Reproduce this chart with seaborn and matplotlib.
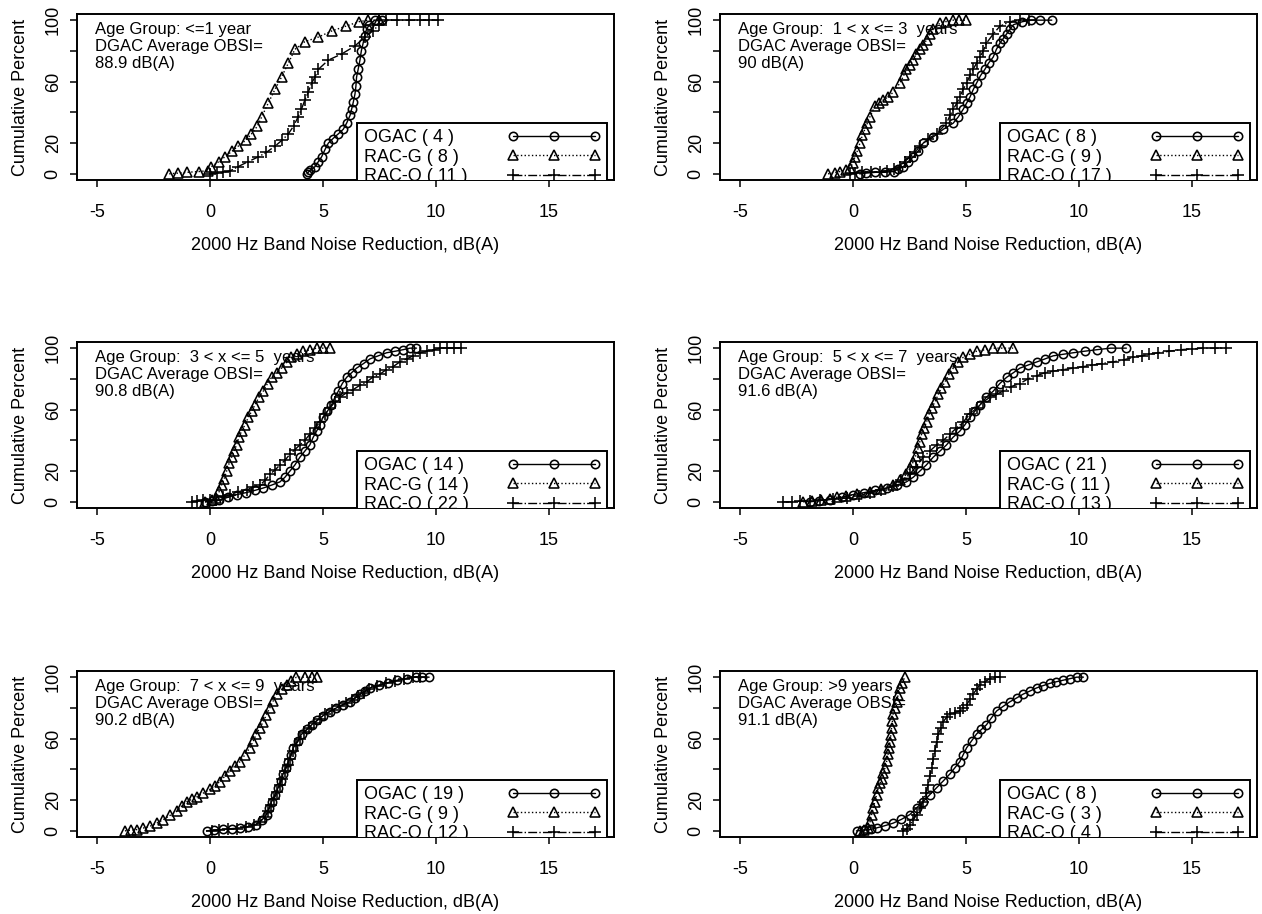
import matplotlib
matplotlib.use('Agg')
import matplotlib.pyplot as plt
import seaborn as sns
from matplotlib.lines import Line2D

# ── Data ─────────────────────────────────────────────────────────────────────
# Panel 1: age <= 1 year
p1_ogac_x = [4.3, 4.35, 4.45, 4.65, 4.8, 4.94, 5.1, 5.24, 5.45, 5.68, 5.9, 6.05, 6.2, 6.27, 6.35,
             6.42, 6.46, 6.49, 6.56, 6.64, 6.7, 6.78, 6.85, 6.93, 7.05, 7.3, 7.6]
p1_ogac_y = [0, 1, 2.5, 4.7, 8, 11, 16, 20, 23, 26, 29, 33, 38, 42, 47,
             52, 57, 63, 68, 74, 80, 85, 90, 94, 97, 100, 100]
p1_racg_x = [-1.8, -1.4, -1.0, -0.5, -0.1, 0.07, 0.4, 0.66, 1.0, 1.25, 1.6, 1.84, 2.1, 2.29, 2.58,
             2.88, 3.17, 3.47, 3.76, 4.2, 4.8, 5.4, 6.0, 6.6, 7.0, 7.5]
p1_racg_y = [0, 0.5, 1, 1.5, 2, 4.7, 8, 11, 15, 18, 22, 26, 31, 37, 46,
             55, 63, 72, 81, 86, 89, 93, 96, 99, 100, 100]
p1_raco_x = [0.0, 0.3, 0.6, 0.9, 1.25, 1.7, 2.14, 2.5, 2.88, 3.2, 3.47, 3.7, 3.9, 4.05, 4.2, 4.35,
             4.5, 4.65, 4.8, 5.24, 5.83, 6.4, 6.86, 7.2, 7.5, 7.8, 8.3, 8.8, 9.3, 9.7, 10.1]
p1_raco_y = [0, 0.5, 1, 2, 4.7, 8, 11, 14, 18, 22, 26, 31, 37, 42, 48, 53,
             59, 63, 68, 74, 78, 83, 89, 93, 97, 100, 100, 100, 100, 100, 100]

# Panel 2: 1 < x <= 3 years
p2_ogac_x = [0.3, 0.6, 1.0, 1.4, 1.8, 2.0, 2.23, 2.45, 2.67, 2.9, 3.11, 3.55, 4.0, 4.44, 4.66, 4.88,
             5.03, 5.18, 5.33, 5.47, 5.65, 5.84, 6.0, 6.21, 6.35, 6.5, 6.65, 6.8, 6.95, 7.1, 7.5,
             7.9, 8.3, 8.8]
p2_ogac_y = [0, 0.5, 1, 1, 1.5, 3, 4.7, 8, 11, 15, 20, 24, 29, 33, 37, 42,
             46, 50, 55, 59, 64, 68, 72, 76, 81, 85, 88, 91, 94, 97, 99,
             100, 100, 100]
p2_racg_x = [-1.1, -0.8, -0.58, -0.3, -0.13, 0.0, 0.09, 0.2, 0.31, 0.42, 0.53, 0.64, 0.75, 0.97,
             1.15, 1.34, 1.55, 1.78, 2.08, 2.25, 2.37, 2.52, 2.67, 2.8, 2.96, 3.1, 3.26, 3.4,
             3.55, 3.85, 4.1, 4.44, 4.7, 5.0]
p2_racg_y = [0, 0.8, 1.5, 2.5, 3.6, 7, 11, 15, 20, 25, 29, 33, 37, 44,
             46, 48, 50, 53, 59, 64, 68, 71, 74, 78, 81, 84, 87, 91,
             94, 98, 99, 100, 100, 100]
p2_raco_x = [-0.13, 0.1, 0.4, 0.8, 1.2, 1.5, 1.8, 2.08, 2.3, 2.52, 2.75, 2.96, 3.33, 3.7, 4.14,
             4.3, 4.44, 4.6, 4.73, 4.88, 5.03, 5.18, 5.32, 5.47, 5.62, 5.77, 5.91, 6.21, 6.5,
             6.95, 7.4, 7.8]
p2_raco_y = [0, 0.5, 1, 1, 1.5, 2, 3, 4.7, 8, 11, 14, 18, 23, 26, 33,
             38, 42, 46, 50, 55, 59, 64, 68, 72, 76, 80, 85, 91, 96,
             99, 100, 100]

# Panel 3: 3 < x <= 5 years
p3_ogac_x = [-0.2, 0.1, 0.4, 0.8, 1.18, 1.6, 2.0, 2.36, 2.75, 3.1, 3.32, 3.54, 3.76, 3.98, 4.2,
             4.42, 4.57, 4.72, 4.86, 5.0, 5.2, 5.38, 5.53, 5.68, 5.86, 6.05, 6.27, 6.49, 6.8,
             7.08, 7.45, 7.82, 8.2, 8.55, 8.85, 9.14]
p3_ogac_y = [0, 0.5, 1, 3, 4.7, 6, 7.5, 9, 11, 13, 16, 20, 24, 29, 33,
             37, 42, 46, 50, 55, 59, 63, 68, 72, 77, 81, 84, 87, 90,
             93, 95, 97, 98, 99, 100, 100]
p3_racg_x = [-0.22, 0.1, 0.29, 0.42, 0.52, 0.63, 0.74, 0.85, 0.96, 1.07, 1.18, 1.29, 1.4, 1.55,
             1.7, 1.85, 1.99, 2.17, 2.36, 2.55, 2.73, 2.95, 3.17, 3.4, 3.61, 3.85, 4.13, 4.45,
             4.72, 5.0, 5.3]
p3_racg_y = [0, 1, 2.5, 7, 11, 15, 20, 25, 29, 33, 37, 42, 46, 50,
             55, 59, 63, 68, 72, 77, 81, 84, 87, 91, 94, 96, 98, 99,
             100, 100, 100]
p3_raco_x = [-0.81, -0.55, -0.3, 0.0, 0.29, 0.6, 0.88, 1.25, 1.62, 1.9, 2.21, 2.45, 2.65, 2.9,
             3.1, 3.32, 3.54, 3.76, 3.98, 4.2, 4.42, 4.65, 4.87, 5.1, 5.31, 5.53, 5.75, 6.05,
             6.34, 6.65, 6.93, 7.2, 7.52, 7.8, 8.11, 8.4, 8.7, 9.0, 9.29, 9.6, 9.9, 10.2,
             10.5, 10.8, 11.1]
p3_raco_y = [0, 0.4, 1, 1, 1.5, 3, 4.7, 6.5, 8, 9.5, 11, 14, 18, 21,
             24, 27, 31, 34, 37, 40, 44, 48, 52, 57, 61, 65, 68, 71,
             73, 76, 78, 81, 83, 86, 88, 91, 93, 95, 97, 98, 99, 100,
             100, 100, 100]

# Panel 4: 5 < x <= 7 years
p4_ogac_x = [-1.9, -1.5, -1.0, -0.5, 0.0, 0.5, 1.0, 1.49, 1.95, 2.37, 2.67, 2.96, 3.25, 3.55,
             3.85, 4.14, 4.43, 4.73, 4.95, 5.18, 5.4, 5.62, 5.9, 6.21, 6.5, 6.8, 7.1, 7.39,
             7.75, 8.13, 8.5, 8.86, 9.3, 9.75, 10.25, 10.8, 11.4, 12.1]
p4_ogac_y = [0, 0.8, 1.5, 3, 4.7, 6, 7.5, 9, 11, 13, 16, 20, 24, 29,
             33, 37, 42, 46, 50, 55, 59, 63, 68, 72, 77, 81, 84, 87,
             89, 91, 93, 95, 96, 97, 98, 99, 100, 100]
p4_racg_x = [-2.2, -1.8, -1.4, -1.0, -0.72, -0.3, 0.2, 0.75, 1.25, 1.78, 2.1, 2.37, 2.52, 2.67,
             2.78, 2.89, 2.96, 3.04, 3.15, 3.26, 3.37, 3.48, 3.63, 3.78, 3.92, 4.07, 4.25,
             4.44, 4.66, 4.88, 5.17, 5.47, 5.85, 6.21, 6.6, 7.09]
p4_racg_y = [0, 0.4, 1, 2, 3, 4, 5, 6.4, 8.5, 11, 14, 18, 22, 26,
             30, 35, 39, 44, 48, 52, 57, 61, 65, 70, 74, 78, 83,
             87, 91, 94, 96, 98, 99, 100, 100, 100]
p4_raco_x = [-3.08, -2.7, -2.35, -1.9, -1.46, -0.9, -0.28, 0.25, 0.75, 1.25, 1.78, 2.15, 2.52,
             2.8, 3.11, 3.4, 3.7, 4.0, 4.29, 4.58, 4.88, 5.17, 5.47, 5.76, 6.06, 6.35, 6.65,
             7.0, 7.39, 7.75, 8.13, 8.5, 8.86, 9.3, 9.75, 10.2, 10.6, 11.0, 11.5, 12.0, 12.4,
             12.8, 13.1, 13.5, 14.0, 14.5, 15.0, 15.5, 16.0, 16.5]
p4_raco_y = [0, 0, 0.4, 0.7, 1, 1.8, 2.5, 4, 5.8, 8, 10, 14, 18,
             23, 29, 33, 37, 40, 44, 48, 52, 57, 61, 65, 68, 70, 72,
             75, 77, 80, 82, 84, 85, 86, 87, 88, 89, 90, 91, 92.5, 94,
             95, 96, 97, 98, 99, 99.5, 100, 100, 100]

# Panel 5: 7 < x <= 9 years
p5_ogac_x = [-0.15, 0.2, 0.6, 1.0, 1.33, 1.7, 2.06, 2.3, 2.51, 2.62, 2.73, 2.88, 3.02, 3.13,
             3.24, 3.35, 3.47, 3.58, 3.69, 3.88, 4.06, 4.28, 4.5, 4.75, 5.01, 5.3, 5.6, 5.9,
             6.19, 6.4, 6.64, 6.86, 7.08, 7.5, 7.9, 8.3, 8.7, 9.1, 9.4, 9.7]
p5_ogac_y = [0, 0.5, 1, 1.5, 1.9, 2.8, 4, 7, 10.6, 15, 19, 23.5, 28, 32.5,
             37, 41, 45, 49.5, 54, 58.5, 63, 66, 69, 72, 75, 77.5, 80, 82,
             84, 86.5, 89, 91, 93, 95, 96.5, 98, 99, 100, 100, 100]
p5_racg_x = [-3.76, -3.5, -3.24, -2.95, -2.65, -2.35, -2.06, -1.77, -1.47, -1.25, -1.03, -0.8,
             -0.59, -0.3, 0.0, 0.22, 0.44, 0.66, 0.88, 1.1, 1.33, 1.55, 1.77, 1.92, 2.06, 2.21,
             2.36, 2.5, 2.65, 2.8, 2.95, 3.17, 3.39, 3.61, 3.83, 4.2, 4.5, 4.72]
p5_racg_y = [0, 0.4, 0.8, 1.8, 3, 5, 7.3, 10, 12.7, 16, 19, 20.5,
             22, 24.5, 27, 29.5, 32, 35.5, 39, 42, 45, 49.5, 54, 58.5, 63, 67,
             71, 75.5, 80, 84.5, 89, 92, 95, 97.5, 100, 100, 100, 100]
p5_raco_x = [0.1, 0.4, 0.8, 1.2, 1.6, 1.95, 2.2, 2.42, 2.58, 2.7, 2.84, 2.98, 3.1, 3.2, 3.32,
             3.44, 3.55, 3.66, 3.8, 3.98, 4.15, 4.38, 4.6, 4.85, 5.1, 5.4, 5.7, 6.0, 6.3, 6.55,
             6.8, 7.05, 7.4, 7.8, 8.2, 8.6, 9.0, 9.3]
p5_raco_y = [0, 0.5, 1, 1.5, 2.5, 3.5, 6, 9, 13, 17, 21, 25, 30, 34, 39,
             43, 47, 52, 56, 60, 64, 67, 70, 73, 76, 78.5, 81, 83, 85, 87.5,
             90, 92, 94, 96, 97.5, 99, 100, 100]

# Panel 6: > 9 years
p6_ogac_x = [0.16, 0.5, 0.8, 1.05, 1.4, 1.78, 2.15, 2.52, 2.82, 3.11, 3.4, 3.7, 4.0, 4.29, 4.51,
             4.73, 4.88, 5.03, 5.25, 5.47, 5.69, 5.91, 6.13, 6.36, 6.65, 6.95, 7.25, 7.54, 7.84,
             8.13, 8.42, 8.72, 9.0, 9.3, 9.6, 9.9, 10.2]
p6_ogac_y = [0, 0.5, 1, 1.9, 3.3, 5, 7.5, 10.6, 15, 19, 23.5, 28, 32.5, 37, 41,
             45, 49.5, 54, 58.5, 63, 66, 69, 73.5, 78, 81, 84, 86.5, 89, 91,
             93, 94.5, 96, 97, 98, 99, 100, 100]
p6_racg_x = [0.31, 0.5, 0.68, 0.76, 0.83, 0.9, 0.97, 1.05, 1.12, 1.2, 1.27, 1.35, 1.42, 1.5,
             1.56, 1.6, 1.64, 1.68, 1.71, 1.75, 1.78, 1.85, 1.93, 2.0, 2.08, 2.18, 2.3]
p6_racg_y = [0, 0.8, 1.9, 6, 10.6, 15, 19, 23.5, 28, 31, 34, 37.5, 41, 45.5,
             50, 54, 58, 62.5, 67, 71.5, 76, 80, 84, 88.5, 93, 96.5, 100]
p6_raco_x = [2.23, 2.4, 2.52, 2.67, 2.82, 2.96, 3.11, 3.22, 3.33, 3.4, 3.48, 3.55, 3.63, 3.7,
             3.78, 3.89, 4.0, 4.15, 4.29, 4.5, 4.73, 4.88, 5.03, 5.18, 5.32, 5.47, 5.62, 5.84,
             6.06, 6.3, 6.5]
p6_raco_y = [0, 1.5, 4, 7, 10.6, 15, 19, 24.5, 30, 35.5, 41, 46.5, 52, 57.5,
             63, 67, 71, 74, 76, 77, 78, 80, 82, 85.5, 89, 92, 95, 97,
             99, 100, 100]

age_labels = ['Age Group: <=1 year', 'Age Group:  1 < x <= 3  years', 'Age Group:  3 < x <= 5  years',
              'Age Group:  5 < x <= 7  years', 'Age Group:  7 < x <= 9  years', 'Age Group: >9 years']
obsi_values = ['88.9', '90', '90.8', '91.6', '90.2', '91.1']
n_ogac = [4, 8, 14, 21, 19, 8]
n_racg = [8, 9, 14, 11, 9, 3]
n_raco = [11, 17, 22, 13, 12, 4]

x_ticks = [-5, 0, 5, 10, 15]
y_ticks = [0, 20, 40, 60, 80, 100]
y_ticklabels = ['0', '20', '', '60', '', '100']

panel_data = [
    (p1_ogac_x, p1_ogac_y, p1_racg_x, p1_racg_y, p1_raco_x, p1_raco_y),
    (p2_ogac_x, p2_ogac_y, p2_racg_x, p2_racg_y, p2_raco_x, p2_raco_y),
    (p3_ogac_x, p3_ogac_y, p3_racg_x, p3_racg_y, p3_raco_x, p3_raco_y),
    (p4_ogac_x, p4_ogac_y, p4_racg_x, p4_racg_y, p4_raco_x, p4_raco_y),
    (p5_ogac_x, p5_ogac_y, p5_racg_x, p5_racg_y, p5_raco_x, p5_raco_y),
    (p6_ogac_x, p6_ogac_y, p6_racg_x, p6_racg_y, p6_raco_x, p6_raco_y),
]

# ── Style ────────────────────────────────────────────────────────────────────
sns.set_theme(style='ticks', rc={
    'axes.edgecolor': 'black', 'axes.linewidth': 1.4,
    'xtick.color': 'black', 'ytick.color': 'black',
    'xtick.major.size': 5, 'ytick.major.size': 5,
    'xtick.major.width': 1.1, 'ytick.major.width': 1.1,
    'xtick.major.pad': 12, 'ytick.major.pad': 6,
    'text.color': 'black', 'axes.labelcolor': 'black',
})
plt.rcParams['font.family'] = ['Liberation Sans', 'DejaVu Sans']

FS = 13        # ticks, axis titles, legend
FS_NOTE = 12   # age-group annotation
SERIES_STYLE = [('o', '-', 6), ('^', ':', 6.5), ('+', '-.', 8.5)]

fig = plt.figure(figsize=(12.62, 9.14), dpi=100)
lefts = [77 / 1262, 720 / 1262]
bottoms = [1 - 180 / 914, 1 - 508 / 914, 1 - 837 / 914]
W, H = 537 / 1262, 166 / 914

for i, data in enumerate(panel_data):
    ax = fig.add_axes([lefts[i % 2], bottoms[i // 2], W, H])
    for k, (mk, ls, ms) in enumerate(SERIES_STYLE):
        sns.lineplot(x=data[2 * k], y=data[2 * k + 1], ax=ax, sort=False, estimator=None,
                     color='black', linewidth=1.0, linestyle=ls, marker=mk, markersize=ms,
                     markerfacecolor='none', markeredgecolor='black', markeredgewidth=1.15,
                     legend=False)
    ax.set_xlim(-5.88, 17.88)
    ax.set_ylim(-4, 104)
    ax.set_xticks(x_ticks)
    ax.set_xticklabels([str(t) for t in x_ticks], fontsize=FS)
    ax.set_yticks(y_ticks)
    ax.set_yticklabels(y_ticklabels, fontsize=FS, rotation=90, va='center')
    ax.set_xlabel('2000 Hz Band Noise Reduction, dB(A)', fontsize=FS, labelpad=12)
    ax.set_ylabel('Cumulative Percent', fontsize=FS, labelpad=11)

    ax.text(-5.1, 99.0, f'{age_labels[i]}\nDGAC Average OBSI=\n{obsi_values[i]} dB(A)',
            ha='left', va='top', fontsize=FS_NOTE, linespacing=1.17)

    handles = [Line2D([], [], color='black', lw=1.0, ls=ls, marker=mk, markersize=ms,
                      markerfacecolor='none', markeredgecolor='black', markeredgewidth=1.15)
               for mk, ls, ms in SERIES_STYLE]
    labels = [f'OGAC ( {n_ogac[i]} )', f'RAC-G ( {n_racg[i]} )', f'RAC-O ( {n_raco[i]} )']
    leg = ax.legend(handles, labels, loc='upper left', bbox_to_anchor=(6.52, 33),
                    bbox_transform=ax.transData, markerfirst=False, numpoints=3,
                    handlelength=5.18, handletextpad=3.0, borderpad=0.35, labelspacing=0.13,
                    borderaxespad=0, frameon=True, fancybox=False, framealpha=1,
                    edgecolor='black', fontsize=FS)
    leg.get_frame().set_linewidth(1.4)
    for a in leg.findobj():
        a.set_clip_box(ax.bbox)
        a.set_clip_on(True)

# left-align legend labels, handles flush right (as in the original)
fig.canvas.draw()
renderer = fig.canvas.get_renderer()
for ax in fig.axes:
    leg = ax.get_legend()
    texts = leg.get_texts()
    widths = [t.get_window_extent(renderer).width * 72 / fig.dpi for t in texts]
    for col in leg._legend_handle_box.get_children():
        col.align = 'left'
        for row, w in zip(col.get_children(), widths):
            row.sep = 103.5 - w

fig.savefig('out.png', dpi=100)
